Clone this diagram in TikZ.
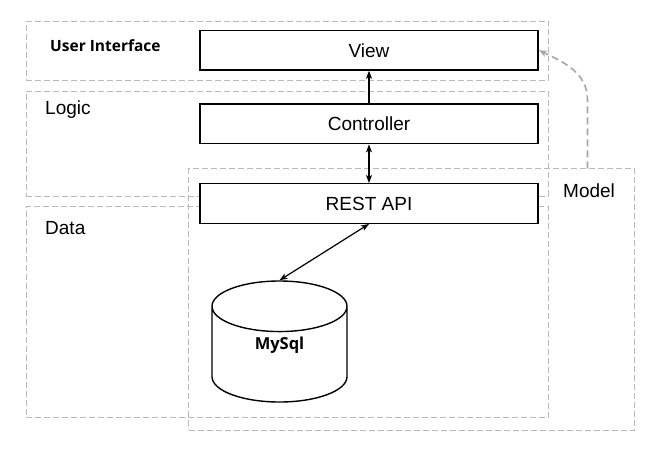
\documentclass[tikz,border=0pt]{standalone}
\usepackage{fontspec}
\setmainfont{Liberation Sans}
\newfontfamily\tagfont{Open Sans}
\usetikzlibrary{positioning,arrows.meta,shapes.geometric}

\begin{document}
\begin{tikzpicture}[x=1pt, y=-1pt,
    layer/.style={draw=gray!55, dash pattern=on 6pt off 3pt, line width=0.8pt, anchor=north west, inner sep=0pt},
    part/.style={draw, line width=1.4pt, fill=white, minimum width=338pt, minimum height=39.5pt, inner sep=0pt, font=\fontsize{19}{21}\selectfont},
    caption/.style={anchor=west, inner sep=0pt, font=\fontsize{19}{21}\selectfont},
    link/.style={line width=1.2pt, -{Stealth[length=8pt, width=6pt, inset=2pt]}},
    twoway/.style={line width=1.2pt, {Stealth[length=8pt, width=6pt, inset=2pt]}-{Stealth[length=8pt, width=6pt, inset=2pt]}},
    feed/.style={draw=gray!70, dash pattern=on 7pt off 4pt, line width=1.6pt, -{Stealth[length=9pt, width=7pt, inset=4pt]}}]
    \useasboundingbox (0,0) rectangle (660,450);

    \node[layer, minimum width=522pt, minimum height=59.3pt] (uilayer) at (26,20.7) {};
    \node[layer, minimum width=522pt, minimum height=105pt] (logiclayer) at (26,90.7) {};
    \node[layer, minimum width=522pt, minimum height=211.3pt] (datalayer) at (26,206) {};
    \node[layer, minimum width=445.7pt, minimum height=261.7pt] (modellayer) at (188.3,168.3) {};

    \node[caption, font=\tagfont\bfseries\fontsize{15.5}{17}\selectfont] (tui) at (50,46) {User Interface};
    \node[caption] (tlogic) at (45,110) {Logic};
    \node[caption] (tdata) at (45,228) {Data};
    \node[caption] (tmodel) at (563,191) {Model};

    \node[part] (view) at (369,50.3) {View};
    \node[part, below=32.7pt of view] (controller) {Controller};
    \node[part, below=38.7pt of controller] (rest) {REST API};

    \node[draw, line width=1.4pt, fill=white, cylinder, shape border rotate=90, aspect=0.9, minimum width=135pt, minimum height=121pt, text depth=30pt, anchor=shape center, font=\tagfont\bfseries\fontsize{16.5}{18}\selectfont] (mysql) at (279.5,341.5) {MySql};

    \draw[link] (controller) -- (view);
    \draw[twoway] (controller) -- (rest);
    \draw[twoway] (rest.south) -- (mysql.north);

    \coordinate (mtop) at (587.5,168.3);
    \coordinate (mbend) at (587.5,100);
    \draw[feed] (mtop) -- (mbend) to[out=90, in=-25] (view.east);
\end{tikzpicture}
\end{document}
